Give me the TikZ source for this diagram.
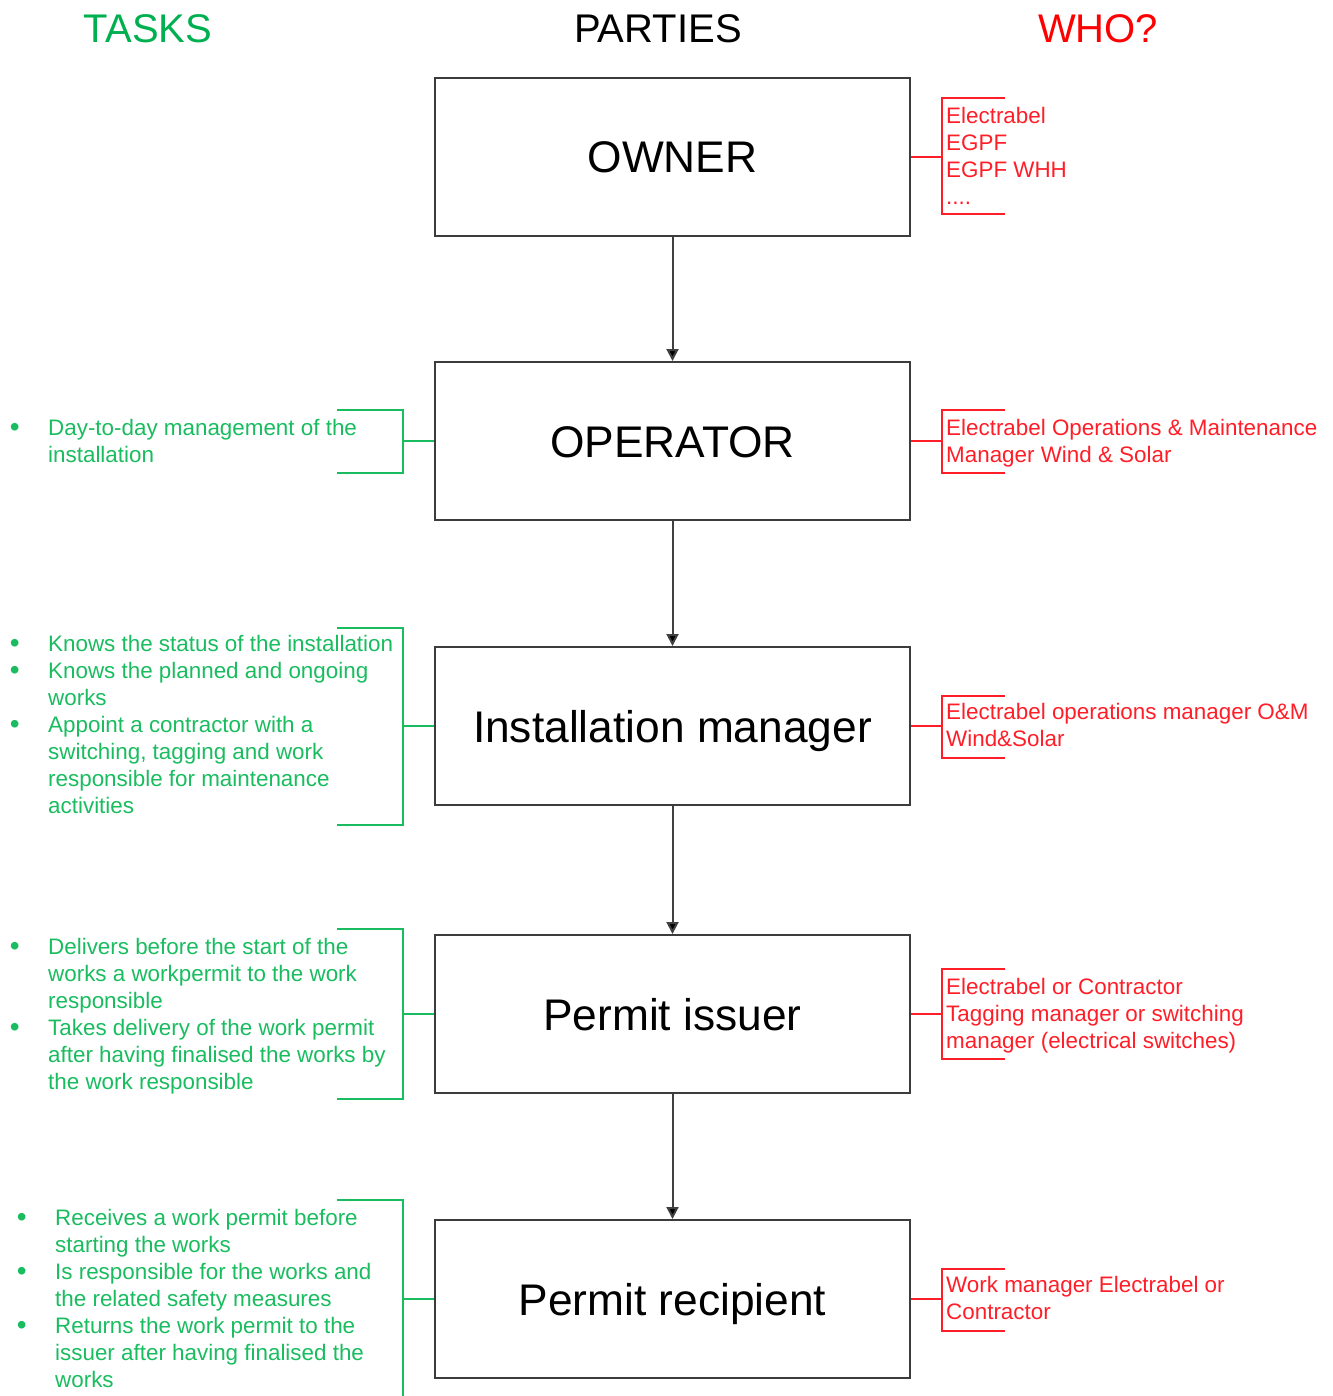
\documentclass[tikz,border=0pt]{standalone}
\usepackage{fontspec}
\setmainfont{Liberation Sans}
\usetikzlibrary{arrows.meta}
\definecolor{tgreen}{RGB}{25,188,95}
\definecolor{hgreen}{RGB}{0,176,80}
\definecolor{wred}{RGB}{255,30,40}
\definecolor{boxgray}{RGB}{60,60,60}
\begin{document}
\begin{tikzpicture}[x=1pt,y=-1pt,
  party/.style={draw=boxgray,line width=2pt,minimum width=475pt,minimum height=158pt,
    inner sep=0pt,text height=32pt,text depth=0pt,font=\fontsize{44.3}{50}\selectfont},
  head/.style={anchor=base,font=\fontsize{40}{46}\selectfont},
  task/.style={anchor=north west,align=left,inner sep=0pt,text=tgreen,
    font=\fontsize{22.4}{27}\selectfont},
  who/.style={anchor=north west,align=left,inner sep=0pt,text=wred,
    font=\fontsize{22.4}{27}\selectfont},
  gbr/.style={draw=tgreen,line width=1.8pt},
  rbr/.style={draw=wred,line width=1.8pt},
  flow/.style={draw=gray!50!black,line width=2pt,-{Triangle[length=12pt,width=12pt,fill=black]}}
]
\useasboundingbox (0,0) rectangle (1332,1396);
\newcommand{\bul}{\llap{\smash{\fontsize{28}{27}\selectfont\raisebox{-1pt}{\textbullet}}\hspace{28.5pt}}}
\newcommand{\fl}{\rule{0pt}{16pt}}

% headers
\node[head,text=hgreen] (hT) at (148,43) {TASKS};
\node[head] (hP) at (658,43) {PARTIES};
\node[head,text=red] (hW) at (1098,43) {WHO?};

% parties
\node[party] (owner) at (672.5,157) {OWNER};
\node[party] (oper) at (672.5,441) {OPERATOR};
\node[party] (inst) at (672.5,726) {Installation manager};
\node[party] (iss) at (672.5,1014) {Permit issuer};
\node[party] (rec) at (672.5,1299) {Permit recipient};

\draw[flow] (owner.south) -- (oper.north);
\draw[flow] (oper.south) -- (inst.north);
\draw[flow] (inst.south) -- (iss.north);
\draw[flow] (iss.south) -- (rec.north);

% left brackets (tasks)
\coordinate (lb1) at (403,441);
\draw[gbr] (337,410) -- (403,410) -- (403,473) -- (337,473);
\draw[gbr] (lb1) -- (oper.west);
\coordinate (lb2) at (403,726);
\draw[gbr] (337,628) -- (403,628) -- (403,825) -- (337,825);
\draw[gbr] (lb2) -- (inst.west);
\coordinate (lb3) at (403,1014);
\draw[gbr] (337,929) -- (403,929) -- (403,1099) -- (337,1099);
\draw[gbr] (lb3) -- (iss.west);
\coordinate (lb4) at (403,1299);
\draw[gbr] (337,1200) -- (403,1200) -- (403,1400);
\draw[gbr] (lb4) -- (rec.west);

% right brackets (who)
\coordinate (rb0) at (942,157);
\draw[rbr] (1005,98) -- (942,98) -- (942,214) -- (1005,214);
\draw[rbr] (owner.east) -- (rb0);
\coordinate (rb1) at (942,441);
\draw[rbr] (1005,410) -- (942,410) -- (942,473) -- (1005,473);
\draw[rbr] (oper.east) -- (rb1);
\coordinate (rb2) at (942,726);
\draw[rbr] (1005,696) -- (942,696) -- (942,758) -- (1005,758);
\draw[rbr] (inst.east) -- (rb2);
\coordinate (rb3) at (942,1014);
\draw[rbr] (1005,969) -- (942,969) -- (942,1059) -- (1005,1059);
\draw[rbr] (iss.east) -- (rb3);
\coordinate (rb4) at (942,1299);
\draw[rbr] (1005,1269) -- (942,1269) -- (942,1331) -- (1005,1331);
\draw[rbr] (rec.east) -- (rb4);

% task texts (coordinate = first baseline - 16)
\node[task] (t1) at (48,419) {\fl\bul Day-to-day management of the\\installation};
\node[task] (t2) at (48,635) {\fl\bul Knows the status of the installation\\
\bul Knows the planned and ongoing\\works\\
\bul Appoint a contractor with a\\switching, tagging and work\\responsible for maintenance\\activities};
\node[task] (t3) at (48,938) {\fl\bul Delivers before the start of the\\works a workpermit to the work\\responsible\\
\bul Takes delivery of the work permit\\after having finalised the works by\\the work responsible};
\node[task] (t4) at (55,1209) {\fl\bul Receives a work permit before\\starting the works\\
\bul Is responsible for the works and\\the related safety measures\\
\bul Returns the work permit to the\\issuer after having finalised the\\works};

% who texts
\node[who] (w0) at (946,107) {\fl Electrabel\\EGPF\\EGPF WHH\\....};
\node[who] (w1) at (946,419) {\fl Electrabel Operations \& Maintenance\\Manager Wind \& Solar};
\node[who] (w2) at (946,703) {\fl Electrabel operations manager O\&M\\Wind\&Solar};
\node[who] (w3) at (946,978) {\fl Electrabel or Contractor\\Tagging manager or switching\\manager (electrical switches)};
\node[who] (w4) at (946,1276) {\fl Work manager Electrabel or\\Contractor};
\end{tikzpicture}
\end{document}
